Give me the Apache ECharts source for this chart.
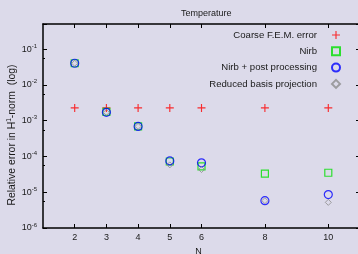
<!DOCTYPE html>
<html>
<head>
<meta charset="utf-8">
<script src="https://cdn.jsdelivr.net/npm/echarts@6/dist/echarts.min.js"></script>
<style>
  html, body { margin: 0; padding: 0; background: #dcdaea; }
  #chart { width: 358px; height: 254px; }
</style>
</head>
<body>
<div id="chart"></div>
<script>
// values
var nValues = [2, 3, 4, 5, 6, 8, 10];
var coarseFem = [2.26e-3, 2.26e-3, 2.26e-3, 2.26e-3, 2.26e-3, 2.26e-3, 2.26e-3];
var nirb = [0.040, 1.75e-3, 6.9e-4, 7.2e-5, 5.3e-5, 3.3e-5, 3.5e-5];
var nirbPost = [0.040, 1.7e-3, 6.9e-4, 7.5e-5, 6.6e-5, 5.8e-6, 8.6e-6];
var rbProjection = [0.040, 1.7e-3, 6.9e-4, 5.8e-5, 4.3e-5, 5.8e-6, 5.2e-6];
var xTicks = [2, 3, 4, 5, 6, 8, 10];

var font = 'Liberation Sans, Arial, sans-serif';
var ink = '#1a1a1a';

function pairs(ys) {
    return nValues.map(function (n, i) { return [n, ys[i]]; });
}

var plusPath = 'path://M3,0h1v3h3v1h-3v3h-1v-3h-3v-1h3z';

var chart = echarts.init(document.getElementById('chart'));

var xBase = {
    type: 'value',
    min: 1,
    max: 11,
    axisLine: { lineStyle: { color: '#000', width: 1.5 } },
    axisTick: { inside: true, length: 4, customValues: xTicks, lineStyle: { color: '#000' } },
    splitLine: { show: false }
};
var yBase = {
    type: 'log',
    logBase: 10,
    min: 1e-6,
    max: 0.5,
    axisLine: { show: true, lineStyle: { color: '#000', width: 1.5 } },
    axisTick: { inside: true, length: 4, lineStyle: { color: '#000' } },
    minorTick: { show: true, splitNumber: 2, length: 2, lineStyle: { color: '#000' } },
    splitLine: { show: false }
};

chart.setOption({
    backgroundColor: '#dcdaea',
    animation: false,
    title: {
        text: 'Temperature',
        left: 176,
        top: 4,
        textStyle: { fontFamily: font, fontSize: 9, fontWeight: 'normal', color: ink }
    },
    legend: {
        orient: 'vertical',
        align: 'right',
        right: 17,
        top: 30,
        padding: 0,
        itemWidth: 8,
        itemHeight: 8,
        itemGap: 6.3,
        textStyle: { fontFamily: font, fontSize: 9.6, color: ink, padding: [0, 10, 0, 0] },
        data: ['Coarse F.E.M. error', 'Nirb', 'Nirb + post processing', 'Reduced basis projection']
    },
    grid: { left: 43, right: -2, top: 24, bottom: 26, outerBoundsMode: 'none' },
    xAxis: [
        Object.assign({}, xBase, {
            position: 'bottom',
            name: 'N',
            nameLocation: 'middle',
            nameGap: 19,
            nameMoveOverlap: false,
            nameTextStyle: { fontFamily: font, fontSize: 9, color: ink, padding: [0, 6, 0, 0] },
            axisLabel: { customValues: xTicks, margin: 5, fontFamily: font, fontSize: 9, color: ink }
        }),
        Object.assign({}, xBase, { position: 'top', axisLabel: { show: false } })
    ],
    yAxis: [
        Object.assign({}, yBase, {
            position: 'left',
            name: 'Relative error in H{sup|1}-norm  (log)',
            nameLocation: 'middle',
            nameRotate: 90,
            nameGap: 25,
            nameMoveOverlap: false,
            nameTextStyle: {
                fontFamily: font, fontSize: 10.4, color: ink,
                padding: [0, 18, 0, 0],
                rich: { sup: { fontFamily: font, fontSize: 6.5, color: ink, verticalAlign: 'top', padding: [0, 0, 5, 0] } }
            },
            axisLabel: {
                margin: 6,
                showMaxLabel: false,
                formatter: function (v) {
                    return '10{e|' + Math.round(Math.log10(v)) + '}';
                },
                fontFamily: font, fontSize: 9, color: ink,
                rich: { e: { fontFamily: font, fontSize: 6, color: ink, padding: [0, 0, 6, 0] } }
            }
        }),
        Object.assign({}, yBase, { position: 'right', axisLabel: { show: false } })
    ],
    series: [
        {
            name: 'Coarse F.E.M. error',
            type: 'scatter',
            symbol: plusPath,
            symbolSize: 8,
            itemStyle: { color: '#ff0000' },
            data: pairs(coarseFem)
        },
        {
            name: 'Nirb',
            type: 'scatter',
            symbol: 'rect',
            symbolSize: 7,
            itemStyle: { color: 'rgba(0,0,0,0)', borderColor: '#00e000', borderWidth: 1.2 },
            data: pairs(nirb)
        },
        {
            name: 'Nirb + post processing',
            type: 'scatter',
            symbol: 'circle',
            symbolSize: 8,
            itemStyle: { color: 'rgba(0,0,0,0)', borderColor: '#0000ff', borderWidth: 1.2 },
            data: pairs(nirbPost)
        },
        {
            name: 'Reduced basis projection',
            type: 'scatter',
            symbol: 'diamond',
            symbolSize: 6,
            itemStyle: { color: 'rgba(0,0,0,0)', borderColor: '#8c8c8c', borderWidth: 1 },
            data: pairs(rbProjection)
        }
    ]
});
</script>
</body>
</html>
